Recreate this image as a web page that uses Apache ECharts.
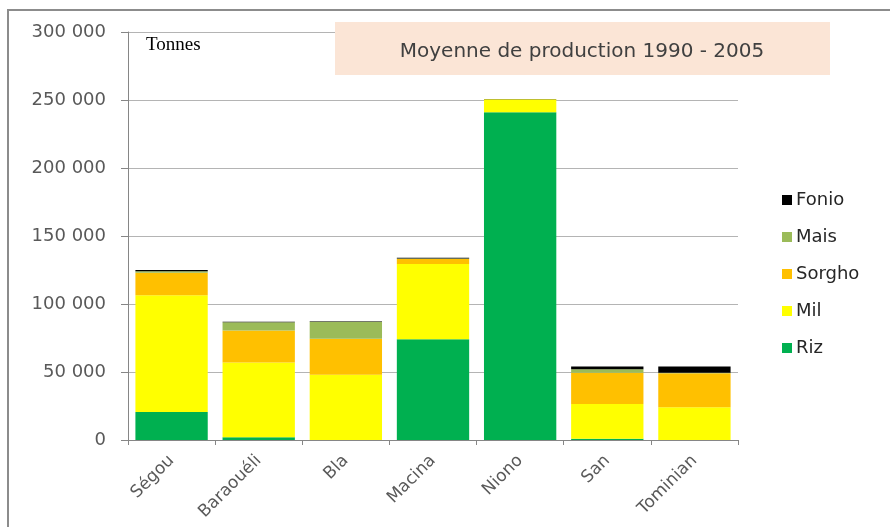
<!DOCTYPE html>
<html>
<head>
<meta charset="utf-8">
<script src="https://cdn.jsdelivr.net/npm/echarts@6/dist/echarts.min.js"></script>
<style>
html,body{margin:0;padding:0;background:#fff;}
#chart{width:890px;height:527px;}
</style>
</head>
<body>
<div id="chart"></div>
<script>
const categories = ['Ségou', 'Baraouéli', 'Bla', 'Macina', 'Niono', 'San', 'Tominian'];
const riz    = [20500, 2000, 0, 74000, 241000, 1000, 0];
const mil    = [86000, 55000, 48000, 55500, 9500, 25500, 24000];
const sorgho = [16500, 23500, 26500, 3500, 0, 23000, 25000];
const mais   = [1000, 6000, 12500, 500, 0, 2500, 500];
const fonio  = [1000, 500, 300, 500, 200, 2000, 4500];
const seriesNames = ['Riz', 'Mil', 'Sorgho', 'Mais', 'Fonio'];
const legendOrder = ['Fonio', 'Mais', 'Sorgho', 'Mil', 'Riz'];
const titleText = 'Moyenne de production 1990 - 2005';
const unitText = 'Tonnes';

const colors = {Riz:'#00b050', Mil:'#ffff00', Sorgho:'#ffc000', Mais:'#9bbb59', Fonio:'#000000'};
const dataMap = {Riz: riz, Mil: mil, Sorgho: sorgho, Mais: mais, Fonio: fonio};

const chart = echarts.init(document.getElementById('chart'), null, {renderer:'canvas'});
const fmt = v => String(v).replace(/\B(?=(\d{3})+(?!\d))/g, ' ');

chart.setOption({
  animation: false,
  backgroundColor: '#ffffff',
  grid: {left: 128, right: 152, top: 32, bottom: 87, containLabel: false},
  legend: {
    orient: 'vertical', left: 777, top: 186,
    data: legendOrder, icon: 'rect', itemWidth: 10, itemHeight: 10, itemGap: 19,
    textStyle: {fontFamily: 'DejaVu Sans', fontSize: 18, color: '#262626', lineHeight: 16, padding: [0, 0, 0, -1]}
  },
  xAxis: {
    type: 'category', data: categories,
    axisLine: {lineStyle: {color: '#868686'}},
    axisTick: {show: true, length: 5, lineStyle: {color: '#868686'}},
    axisLabel: {rotate: 45, fontFamily: 'DejaVu Sans', fontSize: 17, color: '#595959', margin: 18}
  },
  yAxis: {
    type: 'value', min: 0, max: 300000, interval: 50000,
    axisLine: {show: true, lineStyle: {color: '#868686'}},
    axisTick: {show: true, length: 7, lineStyle: {color: '#868686'}},
    splitLine: {lineStyle: {color: '#b4b4b4'}},
    axisLabel: {formatter: fmt, fontFamily: 'DejaVu Sans', fontSize: 18, color: '#595959', margin: 22}
  },
  series: seriesNames.map(n => ({
    name: n, type: 'bar', stack: 'total', data: dataMap[n],
    barCategoryGap: '17%', itemStyle: {color: colors[n]}
  })),
  graphic: [
    {type: 'polyline', shape: {points: [[8, 527], [8, 10], [890, 10]]}, style: {stroke: '#8c8c8c', lineWidth: 2, fill: null}, z: 100},
    {type: 'rect', shape: {x: 335, y: 22, width: 495, height: 53}, style: {fill: '#fbe5d6'}, z: 50},
    {type: 'text', x: 582, y: 52, style: {text: titleText, fontFamily: 'DejaVu Sans', fontSize: 20, fill: '#404040', align: 'center', verticalAlign: 'middle'}, z: 51},
    {type: 'text', x: 146, y: 45, style: {text: unitText, fontFamily: 'Liberation Serif', fontSize: 19, fill: '#000000', align: 'left', verticalAlign: 'middle'}, z: 51}
  ]
});
</script>
</body>
</html>
